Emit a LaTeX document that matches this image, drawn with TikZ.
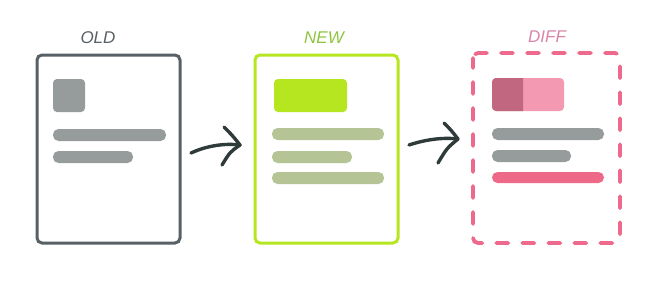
\documentclass[tikz,border=0pt]{standalone}
\usepackage{fontspec}
\newfontfamily\handfont{Liberation Sans}
\begin{document}
\definecolor{oldline}{HTML}{576064}
\definecolor{greyblock}{HTML}{969C9C}
\definecolor{newline}{HTML}{B6E61F}
\definecolor{newbar}{HTML}{B4C494}
\definecolor{diffline}{HTML}{EE6A8C}
\definecolor{diffdark}{HTML}{C1677F}
\definecolor{difflight}{HTML}{F39AB2}
\definecolor{diffbar}{HTML}{EE6888}
\definecolor{arrowcol}{HTML}{2F3A3A}
\definecolor{oldtext}{HTML}{5A6063}
\definecolor{newtext}{HTML}{8CC63F}
\definecolor{difftext}{HTML}{D985A9}
\begin{tikzpicture}[x=1pt,y=-1pt,
  page/.style={line width=3pt,rounded corners=5pt},
  block/.style={rounded corners=4pt},
  bar/.style={rounded corners=5.5pt},
  title/.style={font=\handfont\itshape\fontsize{17}{17}\selectfont,inner sep=0pt},
  flow/.style={line width=3.4pt,color=arrowcol,line cap=round,line join=round}]
\useasboundingbox (0,0) rectangle (656,300);

% OLD page
\node[title,text=oldtext] (told) at (98,38) {OLD};
\draw[page,draw=oldline,fill=white] (37,55) rectangle (180,243);
\fill[block,greyblock] (53,79) rectangle (85,112);
\fill[bar,greyblock] (53,129) rectangle (166,141);
\fill[bar,greyblock] (53,151) rectangle (133,163);

% NEW page
\node[title,text=newtext] (tnew) at (324,38) {NEW};
\draw[page,draw=newline,fill=white] (255,55) rectangle (398,243);
\fill[block,newline] (274,79) rectangle (347,112);
\fill[bar,newbar] (272,128) rectangle (384,140);
\fill[bar,newbar] (272,151) rectangle (352,163);
\fill[bar,newbar] (272,172) rectangle (384,184);

% DIFF page
\node[title,text=difftext] (tdiff) at (547,37) {DIFF};
\draw[page,line width=3.8pt,line cap=round,draw=diffline,dash pattern=on 12pt off 14pt,dash phase=2pt] (473,53) rectangle (620,243);
\fill[block,difflight] (492,78) rectangle (564,111);
\begin{scope}
  \clip (492,78) rectangle (523,111);
  \fill[block,diffdark] (492,78) rectangle (530,111);
\end{scope}
\fill[bar,greyblock] (492,128) rectangle (604,140);
\fill[bar,greyblock] (492,150) rectangle (571,162);
\fill[bar,diffbar] (492,172) rectangle (604,183);

% arrows between the pages
\coordinate (a1s) at (191,153);
\coordinate (a1t) at (240,145);
\draw[flow] (a1s) .. controls (206,146) and (224,143) .. (a1t);
\draw[flow] (224,127) .. controls (232,135) .. (a1t) .. controls (230,152) .. (222,165);
\coordinate (a2s) at (409,145);
\coordinate (a2t) at (458,139);
\draw[flow] (a2s) .. controls (424,140) and (442,137) .. (a2t);
\draw[flow] (444,123) .. controls (451,130) .. (a2t) .. controls (447,148) .. (438,163);
\end{tikzpicture}
\end{document}
